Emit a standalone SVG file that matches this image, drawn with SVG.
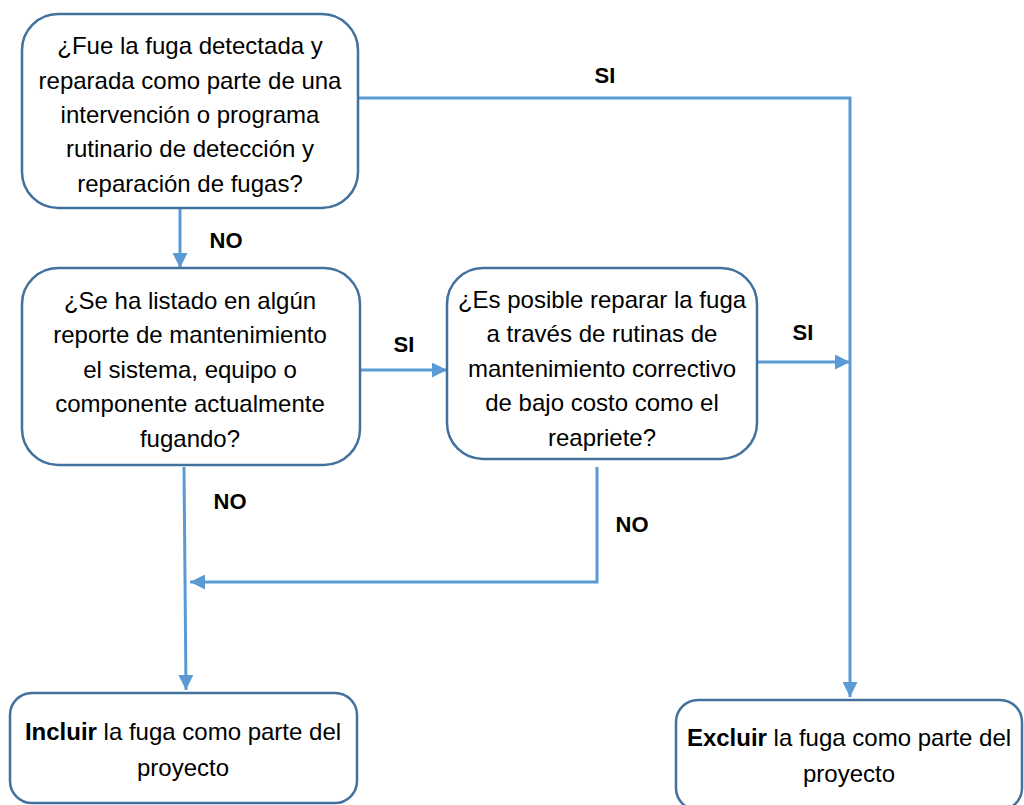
<svg xmlns="http://www.w3.org/2000/svg" width="1024" height="805" viewBox="0 0 1024 805">
<defs>
<style>
.box{fill:#fff;stroke:#41719C;stroke-width:2.5}
.t{font-family:"Liberation Sans",Arial,sans-serif;font-size:24px;fill:#000;text-anchor:middle}
.lbl{font-family:"Liberation Sans",Arial,sans-serif;font-size:22px;font-weight:bold;fill:#000;text-anchor:middle}
.c{fill:none;stroke:#5B9BD5;stroke-width:3}
</style>
<marker id="ah" viewBox="0 0 10 10" refX="10" refY="5" markerWidth="5" markerHeight="5" orient="auto" markerUnits="strokeWidth">
<path d="M0,0 L10,5 L0,10 z" fill="#5B9BD5"/>
</marker>
</defs>
<g id="connectors">
<path class="c" d="M358,98 H850 V697" marker-end="url(#ah)"/>
<path class="c" d="M180,208 V268" marker-end="url(#ah)"/>
<path class="c" d="M360,370 H447" marker-end="url(#ah)"/>
<path class="c" d="M757,362 H850" marker-end="url(#ah)"/>
<path class="c" d="M597,467 V582 H190" marker-end="url(#ah)"/>
<path class="c" d="M184,467 L186,690" marker-end="url(#ah)"/>
<text class="lbl" x="605" y="83">SI</text>
<text class="lbl" x="226" y="248">NO</text>
<text class="lbl" x="404" y="352">SI</text>
<text class="lbl" x="803" y="340">SI</text>
<text class="lbl" x="632" y="532">NO</text>
<text class="lbl" x="230" y="509">NO</text>
</g>
<g id="n1">
<rect class="box" x="22" y="14" width="336" height="194" rx="36"/>
<text class="t" x="190" y="54">¿Fue la fuga detectada y</text>
<text class="t" x="190" y="89">reparada como parte de una</text>
<text class="t" x="190" y="123">intervención o programa</text>
<text class="t" x="190" y="157">rutinario de detección y</text>
<text class="t" x="190" y="192">reparación de fugas?</text>
</g>
<g id="n2">
<rect class="box" x="22" y="268" width="338" height="197" rx="36"/>
<text class="t" x="190" y="309">¿Se ha listado en algún</text>
<text class="t" x="190" y="343">reporte de mantenimiento</text>
<text class="t" x="190" y="378">el sistema, equipo o</text>
<text class="t" x="190" y="412">componente actualmente</text>
<text class="t" x="190" y="447">fugando?</text>
</g>
<g id="n3">
<rect class="box" x="447" y="268" width="310" height="191" rx="36"/>
<text class="t" x="602" y="308">¿Es posible reparar la fuga</text>
<text class="t" x="602" y="342">a través de rutinas de</text>
<text class="t" x="602" y="377">mantenimiento correctivo</text>
<text class="t" x="602" y="411">de bajo costo como el</text>
<text class="t" x="602" y="446">reapriete?</text>
</g>
<g id="n4">
<rect class="box" x="10" y="693" width="347" height="110" rx="22"/>
<text class="t" x="183" y="740"><tspan font-weight="bold">Incluir</tspan> la fuga como parte del</text>
<text class="t" x="183" y="776">proyecto</text>
</g>
<g id="n5">
<rect class="box" x="676" y="700" width="346" height="110" rx="22"/>
<text class="t" x="849" y="746"><tspan font-weight="bold">Excluir</tspan> la fuga como parte del</text>
<text class="t" x="849" y="782">proyecto</text>
</g>
</svg>
